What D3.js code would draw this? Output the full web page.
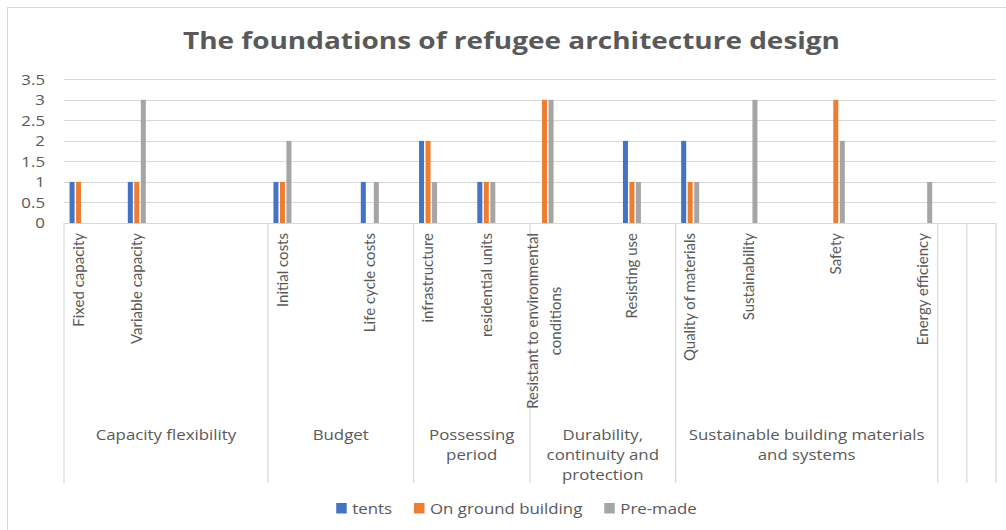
<!DOCTYPE html>
<html>
<head>
<meta charset="utf-8">
<script src="https://cdn.jsdelivr.net/npm/d3@7"></script>
<style>
  html, body { margin: 0; padding: 0; background: #fff; }
  svg { display: block; }
  text { font-family: "Open Sans", Lato, sans-serif; fill: #595959; }
</style>
</head>
<body>
<svg id="chart" width="1006" height="530"></svg>
<script>
// ---------- data ----------
const title = "The foundations of refugee architecture design";
const seriesNames = ["tents", "On ground building", "Pre-made"];
const categories = ["Fixed capacity", "", "Variable capacity", "", "", "", "",
  "Initial costs", "", "", "Life cycle costs", "",
  "infrastructure", "", "residential units", "",
  "Resistant to environmental conditions", "", "", "Resisting use", "",
  "Quality of materials", "", "Sustainability", "", "", "Safety", "", "", "Energy efficiency",
  "", ""];
const groups = ["Capacity flexibility", "Budget", "Possessing period",
  "Durability, continuity and protection", "Sustainable building materials and systems", "", ""];
const groupSizes = [7, 5, 4, 5, 9, 1, 1];
const tents =    [1, null, 1, null, null, null, null, 1, null, null, 1, null, 2, null, 1, null, null, null, null, 2, null, 2, null, null, null, null, null, null, null, null, null, null];
const onGround = [1, null, 1, null, null, null, null, 1, null, null, null, null, 2, null, 1, null, 3, null, null, 1, null, 1, null, null, null, null, 3, null, null, null, null, null];
const preMade =  [null, null, 3, null, null, null, null, 2, null, null, 1, null, 1, null, 1, null, 3, null, null, 1, null, 1, null, 3, null, null, 2, null, null, 1, null, null];
const yTicks = [0, 0.5, 1, 1.5, 2, 2.5, 3, 3.5];
const colors = ["#4472C4", "#ED7D31", "#A5A5A5"];

// ---------- layout ----------
const svg = d3.select("#chart");
const W = 1006, H = 530;
const plot = { left: 64, right: 996, top: 79.3, bottom: 223 };
const grid = "#d9d9d9";
const K = 1.16; // horizontal stretch of the original's text

svg.append("rect").attr("x", 7.5).attr("y", 7.5).attr("width", W + 20).attr("height", H + 20)
  .attr("fill", "#fff").attr("stroke", grid);

svg.append("text").text(title)
  .attr("x", 511.5).attr("y", 48.5).attr("text-anchor", "middle")
  .attr("textLength", 657).attr("lengthAdjust", "spacingAndGlyphs")
  .style("font-size", "24px").style("font-weight", "bold");

const x = d3.scaleBand().domain(d3.range(categories.length)).range([plot.left, plot.right]).padding(0);
const xs = d3.scaleBand().domain([0, 1, 2]).range([-9, 9]).paddingInner(0.23);
const y = d3.scaleLinear().domain([0, 3.5]).range([plot.bottom, plot.top]);

function stretch(sel) {
  sel.each(function () {
    const len = this.getComputedTextLength();
    d3.select(this).attr("textLength", len * K).attr("lengthAdjust", "spacingAndGlyphs");
  });
}

// gridlines
svg.append("g").selectAll("line").data(yTicks.filter(d => d > 0)).join("line")
  .attr("x1", plot.left).attr("x2", plot.right)
  .attr("y1", d => Math.round(y(d)) + 0.5).attr("y2", d => Math.round(y(d)) + 0.5)
  .attr("stroke", grid).attr("stroke-width", 1.2);

// y labels
svg.append("g").selectAll("text").data(yTicks).join("text")
  .attr("x", 45).attr("y", d => y(d)).attr("dy", "0.36em")
  .attr("text-anchor", "end").style("font-size", "14.5px")
  .text(d => d)
  .call(stretch);

// bars
const series = [tents, onGround, preMade];
series.forEach((vals, si) => {
  svg.append("g").selectAll("rect")
    .data(vals.map((v, i) => ({ v, i })).filter(d => d.v != null && d.v > 0))
    .join("rect")
    .attr("x", d => x(d.i) + x.bandwidth() / 2 + xs(si))
    .attr("width", xs.bandwidth())
    .attr("y", d => y(d.v))
    .attr("height", d => y(0) - y(d.v))
    .attr("fill", colors[si]);
});

// x axis line
svg.append("line").attr("x1", plot.left).attr("x2", plot.right)
  .attr("y1", Math.round(y(0)) + 0.5).attr("y2", Math.round(y(0)) + 0.5)
  .attr("stroke", grid).attr("stroke-width", 1.2);

// group separators
const bounds = [0];
groupSizes.forEach(s => bounds.push(bounds[bounds.length - 1] + s));
svg.append("g").selectAll("line").data(bounds).join("line")
  .attr("x1", b => b < categories.length ? x(b) : plot.right)
  .attr("x2", b => b < categories.length ? x(b) : plot.right)
  .attr("y1", y(0)).attr("y2", 483)
  .attr("stroke", grid).attr("stroke-width", 1.2);

// helpers
const measurer = svg.append("text").attr("visibility", "hidden");
function measure(str, size, fam) {
  measurer.style("font-size", size + "px").style("font-family", fam || null).text(str);
  return measurer.node().getComputedTextLength();
}
function wrap(str, maxW, size, fam, k) {
  const words = str.split(" ");
  const lines = [];
  let cur = "";
  words.forEach(w => {
    const t = cur ? cur + " " + w : w;
    if (cur && measure(t, size, fam) * (k || 1) > maxW) { lines.push(cur); cur = w; }
    else cur = t;
  });
  if (cur) lines.push(cur);
  return lines;
}

// category labels (rotated)
const catSize = 15, catFam = "Lato, sans-serif";
const catG = svg.append("g");
categories.forEach((c, i) => {
  if (!c) return;
  const lines = wrap(c, 195, catSize, catFam);
  const maxLen = d3.max(lines, l => measure(l, catSize, catFam));
  const cx = x(i) + x.bandwidth() / 2;
  const cy = 233 + maxLen / 2;
  const lh = 23;
  lines.forEach((l, li) => {
    const off = (li - (lines.length - 1) / 2) * lh;
    catG.append("text")
      .attr("transform", `translate(${cx + off},${cy}) rotate(-90)`)
      .attr("text-anchor", "middle").attr("dy", "0.35em")
      .style("font-size", catSize + "px").style("font-family", catFam)
      .text(l);
  });
});

// group labels
const grpSize = 14.5;
let start = 0;
groups.forEach((g, gi) => {
  const x0 = x(start);
  const x1 = start + groupSizes[gi] < categories.length ? x(start + groupSizes[gi]) : plot.right;
  start += groupSizes[gi];
  if (!g) return;
  const lines = wrap(g, (x1 - x0) - 16, grpSize, null, K);
  lines.forEach((l, li) => {
    svg.append("text").attr("x", (x0 + x1) / 2).attr("y", 435 + li * 20).attr("dy", "0.35em")
      .attr("text-anchor", "middle").style("font-size", grpSize + "px").text(l)
      .call(stretch);
  });
});

// legend
const legSize = 14.5;
const items = seriesNames.map((n, i) => ({ n, i, w: 16 + measure(n, legSize) * K }));
const gap = 22;
const total = d3.sum(items, d => d.w) + gap * (items.length - 1);
let lx = 516.5 - total / 2;
const legG = svg.append("g");
items.forEach(d => {
  legG.append("rect").attr("x", lx).attr("y", 503).attr("width", 10.5).attr("height", 10.5).attr("fill", colors[d.i]);
  legG.append("text").attr("x", lx + 16).attr("y", 508.5).attr("dy", "0.35em")
    .style("font-size", legSize + "px").text(d.n)
    .call(stretch);
  lx += d.w + gap;
});
measurer.remove();
</script>
</body>
</html>
